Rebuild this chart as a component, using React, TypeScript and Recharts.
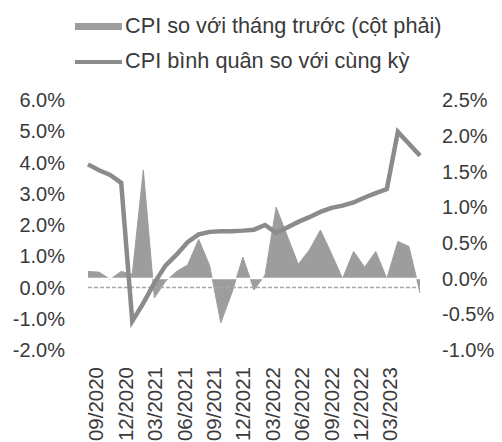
import {
  ComposedChart,
  Area,
  Line,
  XAxis,
  YAxis,
  ReferenceLine,
} from "recharts";

const months = [
  "09/2020", "10/2020", "11/2020", "12/2020",
  "01/2021", "02/2021", "03/2021", "04/2021", "05/2021", "06/2021",
  "07/2021", "08/2021", "09/2021", "10/2021", "11/2021", "12/2021",
  "01/2022", "02/2022", "03/2022", "04/2022", "05/2022", "06/2022",
  "07/2022", "08/2022", "09/2022", "10/2022", "11/2022", "12/2022",
  "01/2023", "02/2023", "03/2023",
];

// CPI so với tháng trước (%), trục phải
const cpiMoM = [
  0.1, 0.09, -0.01, 0.1,
  0.06, 1.52, -0.27, -0.04, 0.1, 0.19,
  0.55, 0.18, -0.62, -0.2, 0.3, -0.16,
  0.05, 1.0, 0.6, 0.2, 0.4, 0.68,
  0.35, 0.0, 0.38, 0.16, 0.38, 0.0,
  0.52, 0.45, -0.2,
];

// CPI bình quân so với cùng kỳ (%), trục trái
const cpiAvg = [
  3.94, 3.75, 3.6, 3.35,
  -1.08, -0.5, 0.15, 0.7, 1.05, 1.45,
  1.7, 1.78, 1.8, 1.8, 1.82, 1.85,
  2.0, 1.75, 1.92, 2.1, 2.25, 2.42,
  2.55, 2.62, 2.72, 2.88, 3.02, 3.15,
  4.98, 4.6, 4.22,
];

const leftTicks = [-2, -1, 0, 1, 2, 3, 4, 5, 6];
const rightTicks = [-1, -0.5, 0, 0.5, 1, 1.5, 2, 2.5];

const data = months.map((m, i) => ({ month: m, mom: cpiMoM[i], avg: cpiAvg[i] }));

const TEXT = "#3a3a3a";
const AREA = "#9d9d9d";
const LINE = "#8b8b8b";
const FONT = '"Liberation Sans", Arial, sans-serif';
const PLOT_BOTTOM = 350;

const pct = (v: number) => v.toFixed(1) + "%";

function MonthTick(props: any) {
  const { x, payload } = props;
  const y = PLOT_BOTTOM + 17;
  return (
    <text
      x={x}
      y={y}
      transform={`rotate(-90 ${x} ${y})`}
      textAnchor="end"
      dy="0.36em"
      fill={TEXT}
      fontSize={20.5}
      fontFamily={FONT}
    >
      {payload.value}
    </text>
  );
}

function LegendBox() {
  const row = { position: "absolute" as const, left: 125, fontSize: 21.7, lineHeight: "22px", color: TEXT, whiteSpace: "nowrap" as const };
  return (
    <>
      <div style={{ position: "absolute", left: 75, top: 23, width: 47, height: 7, background: AREA }} />
      <div style={{ ...row, top: 15 }}>CPI so với tháng trước (cột phải)</div>
      <div style={{ position: "absolute", left: 75, top: 60, width: 47, height: 4, background: LINE }} />
      <div style={{ ...row, top: 50 }}>CPI bình quân so với cùng kỳ</div>
    </>
  );
}

export default function App() {
  return (
    <div style={{ position: "absolute", left: 0, top: 0, width: 502, height: 442, fontFamily: FONT, background: "#fff" }}>
      <ComposedChart width={502} height={442} data={data} margin={{ top: 100, right: 0, bottom: 0, left: 0 }}>
        <XAxis
          xAxisId="l"
          dataKey="month"
          scale="point"
          padding={{ left: 8, right: 30 }}
          height={92}
          interval={2}
          axisLine={false}
          tickLine={false}
          tick={<MonthTick />}
        />
        <XAxis xAxisId="d" dataKey="month" scale="point" height={0} hide />
        <YAxis
          yAxisId="left"
          orientation="left"
          width={88}
          domain={[-2, 6]}
          ticks={leftTicks}
          tickFormatter={pct}
          axisLine={false}
          tickLine={false}
          tickSize={0}
          tickMargin={23}
          tick={{ fill: TEXT, fontSize: 20, fontFamily: FONT }}
        />
        <YAxis
          yAxisId="right"
          orientation="right"
          width={82}
          domain={[-1, 2.5]}
          ticks={rightTicks}
          tickFormatter={pct}
          axisLine={false}
          tickLine={false}
          tickSize={0}
          tickMargin={22}
          tick={{ fill: TEXT, fontSize: 20, fontFamily: FONT, textAnchor: "start" }}
        />
        <Area
          xAxisId="d"
          yAxisId="right"
          type="linear"
          dataKey="mom"
          baseValue={0}
          fill={AREA}
          fillOpacity={1}
          stroke={AREA}
          strokeWidth={1}
          isAnimationActive={false}
        />
        <ReferenceLine xAxisId="d" yAxisId="right" y={0} stroke="#ffffff" strokeWidth={1.5} />
        <ReferenceLine xAxisId="d" yAxisId="left" y={0} stroke="#a8a8a8" strokeWidth={1.5} strokeDasharray="4 2" />
        <Line
          xAxisId="d"
          yAxisId="left"
          type="linear"
          dataKey="avg"
          stroke={LINE}
          strokeWidth={4.5}
          dot={false}
          isAnimationActive={false}
        />
      </ComposedChart>
      <LegendBox />
    </div>
  );
}
